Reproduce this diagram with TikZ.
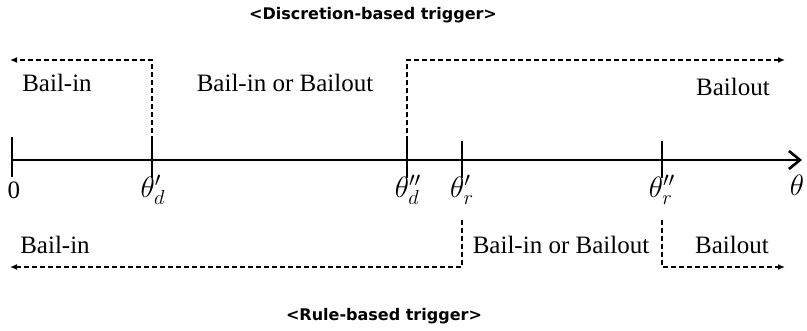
\documentclass[tikz,border=0pt]{standalone}
\usepackage{fontspec}
\setmainfont{Liberation Serif}
\newfontfamily\titlefont{DejaVu Sans}
\usetikzlibrary{arrows.meta}
\newcommand{\thmath}[1]{\scalebox{1.7}{$#1$}}
\begin{document}
\begin{tikzpicture}[x=1pt,y=-1pt,
  axisline/.style={line width=2.6pt},
  tickline/.style={line width=2pt},
  dashline/.style={line width=1.3pt,dash pattern=on 5pt off 3pt},
  dashtip/.style={dashline,-{Latex[length=7pt,width=6pt]}},
  lbl/.style={font=\fontsize{25}{28}\selectfont,inner sep=0pt},
  mlbl/.style={font=\fontsize{17.28}{20}\selectfont,inner sep=0pt},
  ttl/.style={font=\titlefont\bfseries\fontsize{16}{19}\selectfont,inner sep=0pt}]
\useasboundingbox (0,0) rectangle (807,331);
% axis coordinates
\coordinate (t0) at (12,160);
\coordinate (axend) at (802,160);
\draw[axisline,-{Straight Barb[length=11pt,width=18pt,line width=2.6pt]}] (t0) -- (axend);
% ticks
\draw[tickline] (12,137) -- (12,177);
\draw[tickline] (152,141) -- (152,178);
\draw[tickline] (407,141) -- (407,178);
\draw[tickline] (462,141) -- (462,178);
\draw[tickline] (662,141) -- (662,178);
% top dashed (discretion)
\coordinate (a1) at (152,141);
\coordinate (a2) at (152,60);
\coordinate (a3) at (10,60);
\draw[dashtip] (a1) -- (a2) -- (a3);
\coordinate (b1) at (407,141);
\coordinate (b2) at (407,60);
\coordinate (b3) at (785,60);
\draw[dashtip] (b1) -- (b2) -- (b3);
% bottom dashed (rule)
\coordinate (c1) at (462,220);
\coordinate (c2) at (462,267);
\coordinate (c3) at (10,267);
\draw[dashtip] (c1) -- (c2) -- (c3);
\coordinate (d1) at (662,220);
\coordinate (d2) at (662,267);
\coordinate (d3) at (785,267);
\draw[dashtip] (d1) -- (d2) -- (d3);
% texts
\node[lbl] (tl1) at (57,83) {Bail-in};
\node[lbl] (tl2) at (285,83) {Bail-in or Bailout};
\node[lbl] (tl3) at (733,87) {Bailout};
\node[lbl] (bl1) at (55,245) {Bail-in};
\node[lbl] (bl2) at (561,245) {Bail-in or Bailout};
\node[lbl] (bl3) at (732,245) {Bailout};
\node[lbl] (zero) at (14,190) {0};
\node[mlbl] (thd1) at (153,190) {\thmath{\theta'_d}};
\node[mlbl] (thd2) at (408,190) {\thmath{\theta''_d}};
\node[mlbl] (thr1) at (462,190) {\thmath{\theta'_r}};
\node[mlbl] (thr2) at (662,190) {\thmath{\theta''_r}};
\node[mlbl] (th) at (797,185) {\thmath{\theta}};
\node[ttl] (top) at (373,15) {<Discretion-based trigger>};
\node[ttl] (bot) at (384,316) {<Rule-based trigger>};
\end{tikzpicture}
\end{document}
